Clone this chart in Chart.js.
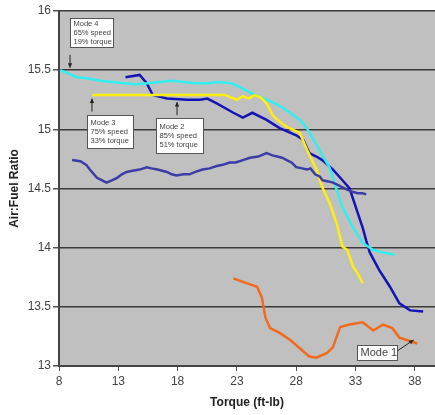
<!DOCTYPE html>
<html>
<head>
<meta charset="utf-8">
<script src="https://cdn.jsdelivr.net/npm/chart.js@4"></script>
<style>
  html, body { margin: 0; padding: 0; background: #fff; }
  #wrap { width: 435px; height: 415px; }
</style>
</head>
<body>
<div id="wrap"><canvas id="afrChart" width="435" height="415"></canvas></div>
<script>
// tick labels
const xTicks = [8, 13, 18, 23, 28, 33, 38];
const yTicks = [13, 13.5, 14, 14.5, 15, 15.5, 16];

// Mode 4 (cyan)
const mode4Torque = [8.1, 8.8, 9.5, 10.5, 11.5, 12.5, 13.5, 14.5, 15.5, 16.5, 17.5, 18.5, 19.5, 20.5, 21.5, 22.5, 23.2, 24.1, 24.8, 25.5, 26.2, 26.9, 27.6, 28.3, 28.9, 29.7, 30.2, 30.8, 31.4, 31.9, 32.8, 33.6, 34.5, 35.3, 36.3];
const mode4Afr = [15.5, 15.47, 15.44, 15.43, 15.41, 15.40, 15.39, 15.38, 15.39, 15.40, 15.41, 15.40, 15.39, 15.39, 15.40, 15.39, 15.36, 15.31, 15.28, 15.25, 15.22, 15.18, 15.13, 15.08, 15.01, 14.87, 14.78, 14.68, 14.49, 14.34, 14.17, 14.04, 13.98, 13.96, 13.94];

// Mode 3 (yellow)
const mode3Torque = [10.8, 12, 14, 16, 18, 20, 22, 22.5, 23, 23.5, 24, 24.5, 25, 25.5, 26, 26.4, 27.2, 28.3, 28.9, 29.7, 30.2, 30.8, 31.4, 31.9, 32.3, 32.8, 33.2, 33.6];
const mode3Afr = [15.29, 15.29, 15.29, 15.29, 15.29, 15.29, 15.29, 15.27, 15.25, 15.28, 15.26, 15.29, 15.27, 15.22, 15.12, 15.08, 15.02, 14.97, 14.83, 14.66, 14.51, 14.38, 14.21, 14.01, 13.98, 13.84, 13.78, 13.70];

// Mode 2 (dark blue)
const mode2Torque = [13.6, 14.8, 15.4, 15.9, 17.1, 18.8, 19.9, 20.5, 21.3, 22.7, 23.5, 24.3, 25.5, 26.6, 28.0, 28.6, 29.1, 29.7, 30.2, 31.1, 31.9, 32.5, 33.1, 33.6, 33.9, 34.2, 35.0, 35.9, 36.7, 37.6, 38.7];
const mode2Afr = [15.44, 15.46, 15.39, 15.29, 15.26, 15.25, 15.25, 15.26, 15.22, 15.14, 15.10, 15.14, 15.08, 15.01, 14.95, 14.91, 14.80, 14.77, 14.74, 14.66, 14.57, 14.50, 14.32, 14.17, 14.06, 13.96, 13.81, 13.67, 13.53, 13.47, 13.46];

// Mode 5 (slate blue)
const mode5Torque = [9.1, 9.8, 10.3, 10.6, 11.2, 11.6, 12.0, 12.5, 12.9, 13.3, 13.7, 14.2, 14.8, 15.4, 15.8, 16.3, 16.7, 17.1, 17.5, 17.9, 18.5, 19.0, 19.5, 20.1, 20.7, 21.3, 21.8, 22.4, 22.9, 23.5, 24.1, 24.8, 25.5, 26.0, 26.4, 26.8, 27.2, 27.6, 28.0, 28.5, 28.9, 29.2, 29.6, 30.0, 30.2, 30.7, 31.1, 31.5, 31.9, 32.3, 32.8, 33.2, 33.6, 33.9];
const mode5Afr = [14.74, 14.73, 14.70, 14.66, 14.59, 14.57, 14.55, 14.57, 14.59, 14.62, 14.64, 14.65, 14.66, 14.68, 14.67, 14.66, 14.65, 14.64, 14.62, 14.61, 14.62, 14.62, 14.64, 14.66, 14.67, 14.69, 14.70, 14.72, 14.72, 14.74, 14.76, 14.77, 14.80, 14.78, 14.77, 14.76, 14.74, 14.72, 14.68, 14.67, 14.66, 14.67, 14.62, 14.60, 14.57, 14.56, 14.55, 14.53, 14.51, 14.49, 14.47, 14.46, 14.46, 14.45];

// Mode 1 (orange)
const mode1Torque = [22.7, 23.8, 24.7, 25.1, 25.4, 25.8, 26.6, 27.5, 28.3, 29.1, 29.7, 30.6, 31.1, 31.7, 32.5, 33.6, 34.5, 35.3, 36.1, 36.7, 37.3, 38.2];
const mode1Afr = [13.74, 13.70, 13.67, 13.58, 13.41, 13.32, 13.28, 13.22, 13.15, 13.08, 13.07, 13.11, 13.16, 13.33, 13.35, 13.37, 13.30, 13.35, 13.32, 13.24, 13.22, 13.19];

const toPoints = (xs, ys) => xs.map((x, i) => ({ x: x, y: ys[i] }));

// callout boxes: anchor in data units, size in px
const callouts = [
  { x: 8.93, y: 15.94, w: 43, h: 29, lines: ['Mode 4', '65% speed', '19% torque'], size: 7.5,
    arrow: { x: 8.93, y1: 15.63, y2: 15.52 } },
  { x: 10.35, y: 15.12, w: 46, h: 33, lines: ['Mode 3', '75% speed', '33% torque'], size: 7.5,
    arrow: { x: 10.78, y1: 15.15, y2: 15.26 } },
  { x: 16.17, y: 15.10, w: 47, h: 35, lines: ['Mode 2', '85% speed', '51% torque'], size: 7.5,
    arrow: { x: 17.95, y1: 15.12, y2: 15.23 } },
  { x: 33.1, y: 13.18, w: 40, h: 15, lines: ['Mode 1'], size: 11,
    arrow: { x: 36.56, y1: 13.13, x2: 37.9, y2: 13.22 } }
];

const chartDecor = {
  id: 'chartDecor',
  beforeDraw(chart) {
    const { ctx, chartArea } = chart;
    ctx.save();
    ctx.fillStyle = '#c0c0c0';
    ctx.fillRect(chartArea.left, chartArea.top, chartArea.right - chartArea.left, chartArea.bottom - chartArea.top);
    ctx.restore();
  },
  afterDraw(chart) {
    const { ctx } = chart;
    const xs = chart.scales.x;
    const ys = chart.scales.y;
    ctx.save();
    callouts.forEach(c => {
      const left = Math.round(xs.getPixelForValue(c.x)) + 0.5;
      const top = Math.round(ys.getPixelForValue(c.y)) + 0.5;
      ctx.fillStyle = '#ffffff';
      ctx.fillRect(left, top, c.w, c.h);
      ctx.strokeStyle = '#555';
      ctx.lineWidth = 1;
      ctx.strokeRect(left, top, c.w, c.h);
      ctx.fillStyle = '#444';
      ctx.font = c.size + 'px "Liberation Sans", Arial, sans-serif';
      ctx.textBaseline = 'middle';
      ctx.textAlign = 'left';
      const lh = c.lines.length > 1 ? 9 : 0;
      const y0 = top + c.h / 2 - lh * (c.lines.length - 1) / 2;
      c.lines.forEach((t, i) => ctx.fillText(t, left + 3, y0 + i * lh));

      // arrow
      const a = c.arrow;
      const ax1 = xs.getPixelForValue(a.x);
      const ay1 = ys.getPixelForValue(a.y1);
      const ax2 = xs.getPixelForValue(a.x2 !== undefined ? a.x2 : a.x);
      const ay2 = ys.getPixelForValue(a.y2);
      ctx.strokeStyle = '#222';
      ctx.fillStyle = '#222';
      ctx.beginPath();
      ctx.moveTo(ax1, ay1);
      ctx.lineTo(ax2, ay2);
      ctx.stroke();
      const ang = Math.atan2(ay2 - ay1, ax2 - ax1);
      ctx.beginPath();
      ctx.moveTo(ax2, ay2);
      ctx.lineTo(ax2 - 5 * Math.cos(ang - 0.45), ay2 - 5 * Math.sin(ang - 0.45));
      ctx.lineTo(ax2 - 5 * Math.cos(ang + 0.45), ay2 - 5 * Math.sin(ang + 0.45));
      ctx.closePath();
      ctx.fill();
    });
    ctx.restore();
  }
};

const lineSet = (xs, ys, color) => ({
  data: toPoints(xs, ys),
  borderColor: color,
  backgroundColor: color,
  borderWidth: 2.5,
  pointRadius: 0,
  showLine: true,
  tension: 0
});

new Chart(document.getElementById('afrChart'), {
  type: 'scatter',
  data: {
    datasets: [
      lineSet(mode1Torque, mode1Afr, '#f26b1d'),
      lineSet(mode5Torque, mode5Afr, '#3c3ca6'),
      lineSet(mode3Torque, mode3Afr, '#ffee11'),
      lineSet(mode4Torque, mode4Afr, '#33eeee'),
      lineSet(mode2Torque, mode2Afr, '#1414b4')
    ]
  },
  options: {
    responsive: false,
    animation: false,
    layout: { padding: { top: 11, right: 0, left: 0, bottom: 0 } },
    plugins: { legend: { display: false }, tooltip: { enabled: false } },
    scales: {
      x: {
        type: 'linear',
        min: 8,
        max: 39.7,
        afterBuildTicks: scale => { scale.ticks = xTicks.map(v => ({ value: v })); },
        afterFit: scale => { scale.height = 49; },
        grid: { drawOnChartArea: false, drawTicks: true, tickLength: 5, color: '#555' },
        border: { color: '#444', width: 2 },
        ticks: { color: '#444', font: { family: 'Liberation Sans', size: 12 }, padding: 3, maxRotation: 0, callback: v => String(v) },
        title: { display: true, text: 'Torque (ft-lb)', color: '#222', font: { family: 'Liberation Sans', size: 12, weight: 'bold' }, padding: { top: 0, bottom: 5 } }
      },
      y: {
        min: 13,
        max: 16,
        afterBuildTicks: scale => { scale.ticks = yTicks.map(v => ({ value: v })); },
        afterFit: scale => { scale.width = 59; },
        grid: { color: '#3a3a3a', lineWidth: 1.5, tickLength: 6, tickColor: '#555' },
        border: { color: '#444', width: 2 },
        ticks: { color: '#444', font: { family: 'Liberation Sans', size: 12 }, padding: 2, callback: v => String(v) },
        title: { display: true, text: 'Air:Fuel Ratio', color: '#222', font: { family: 'Liberation Sans', size: 12, weight: 'bold' }, padding: { top: 7, bottom: 0 } }
      }
    }
  },
  plugins: [chartDecor]
});
</script>
</body>
</html>
